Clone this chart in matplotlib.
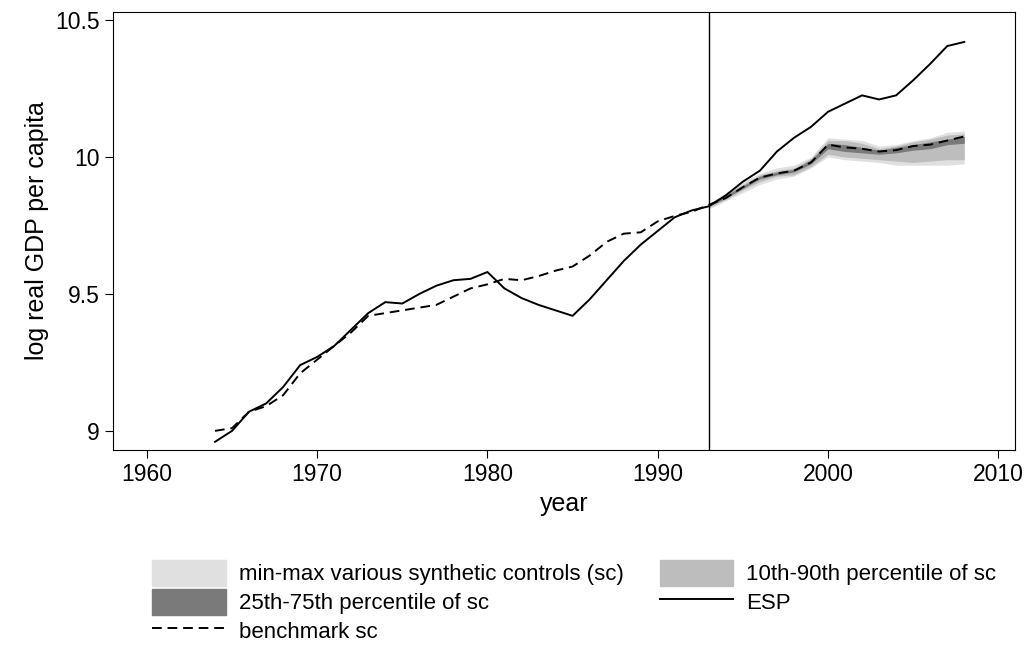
import numpy as np
import matplotlib.pyplot as plt
from matplotlib.patches import Patch
from matplotlib.lines import Line2D

plt.rcParams['font.family'] = ['Liberation Sans', 'DejaVu Sans']

years = np.arange(1964, 2009)
esp = [8.96, 9.00, 9.07, 9.10, 9.16, 9.24, 9.27, 9.31, 9.37, 9.43, 9.47, 9.465, 9.50,
       9.53, 9.55, 9.555, 9.58, 9.52, 9.485, 9.46, 9.44, 9.42, 9.48, 9.55, 9.62, 9.68,
       9.73, 9.78, 9.805, 9.82, 9.86, 9.91, 9.95, 10.02, 10.07, 10.11, 10.165, 10.195,
       10.225, 10.21, 10.225, 10.28, 10.34, 10.405, 10.42]
bench = [9.00, 9.01, 9.07, 9.09, 9.13, 9.21, 9.26, 9.31, 9.36, 9.42, 9.43, 9.44, 9.45,
         9.46, 9.49, 9.52, 9.535, 9.555, 9.55, 9.565, 9.585, 9.60, 9.64, 9.69, 9.72,
         9.725, 9.765, 9.785, 9.80, 9.825, 9.85, 9.89, 9.925, 9.94, 9.95, 9.98, 10.045,
         10.035, 10.03, 10.02, 10.025, 10.04, 10.045, 10.06, 10.075]

band_years = np.arange(1993, 2009)
sc_min = [9.81, 9.84, 9.87, 9.90, 9.92, 9.93, 9.96, 10.00, 9.99, 9.985, 9.98, 9.97, 9.97, 9.97, 9.97, 9.975]
sc_max = [9.83, 9.87, 9.91, 9.94, 9.96, 9.97, 10.00, 10.07, 10.065, 10.06, 10.04, 10.045, 10.06, 10.07, 10.09, 10.095]
p10 = [9.815, 9.845, 9.88, 9.91, 9.93, 9.935, 9.965, 10.01, 10.0, 9.995, 9.99, 9.985, 9.98, 9.985, 9.99, 9.99]
p90 = [9.83, 9.865, 9.90, 9.935, 9.95, 9.96, 9.995, 10.06, 10.06, 10.05, 10.03, 10.04, 10.055, 10.065, 10.08, 10.085]
p25 = [9.82, 9.85, 9.885, 9.92, 9.935, 9.945, 9.975, 10.03, 10.02, 10.015, 10.01, 10.015, 10.025, 10.03, 10.045, 10.05]
p75 = [9.828, 9.86, 9.895, 9.93, 9.945, 9.955, 9.99, 10.05, 10.045, 10.035, 10.025, 10.035, 10.045, 10.055, 10.065, 10.075]

fig = plt.figure(figsize=(10.35, 6.57), dpi=100)
ax = fig.add_axes([0.109, 0.315, 0.872, 0.667])

ax.fill_between(band_years, sc_min, sc_max, color='#e0e0e0', lw=0)
ax.fill_between(band_years, p10, p90, color='#bdbdbd', lw=0)
ax.fill_between(band_years, p25, p75, color='#7a7a7a', lw=0)
ax.plot(years, bench, color='black', ls=(0, (5, 3)), lw=1.4)
ax.plot(years, esp, color='black', lw=1.4)
ax.axvline(1993, color='black', lw=1)

ax.set_xlim(1958, 2011)
ax.set_ylim(8.93, 10.53)
ax.set_xticks([1960, 1970, 1980, 1990, 2000, 2010])
ax.set_yticks([9, 9.5, 10, 10.5])
ax.set_yticklabels(['9', '9.5', '10', '10.5'])
ax.tick_params(labelsize=16.5, length=6)
ax.set_xlabel('year', fontsize=18)
ax.set_ylabel('log real GDP per capita', fontsize=18)

handles = [Patch(color='#e0e0e0'), Patch(color='#7a7a7a'),
           Line2D([], [], color='black', ls=(0, (5, 3)), lw=1.4),
           Patch(color='#bdbdbd'), Line2D([], [], color='black', lw=1.4)]
labels = ['min-max various synthetic controls (sc)', '25th-75th percentile of sc',
          'benchmark sc', '10th-90th percentile of sc', 'ESP']
fig.legend(handles, labels, loc='lower center', bbox_to_anchor=(0.555, -0.01), ncol=2,
           frameon=False, fontsize=16, handlelength=3.3, handleheight=1.4,
           handletextpad=0.6, columnspacing=1.6, labelspacing=0.15)

fig.savefig('out.png', dpi=100)
